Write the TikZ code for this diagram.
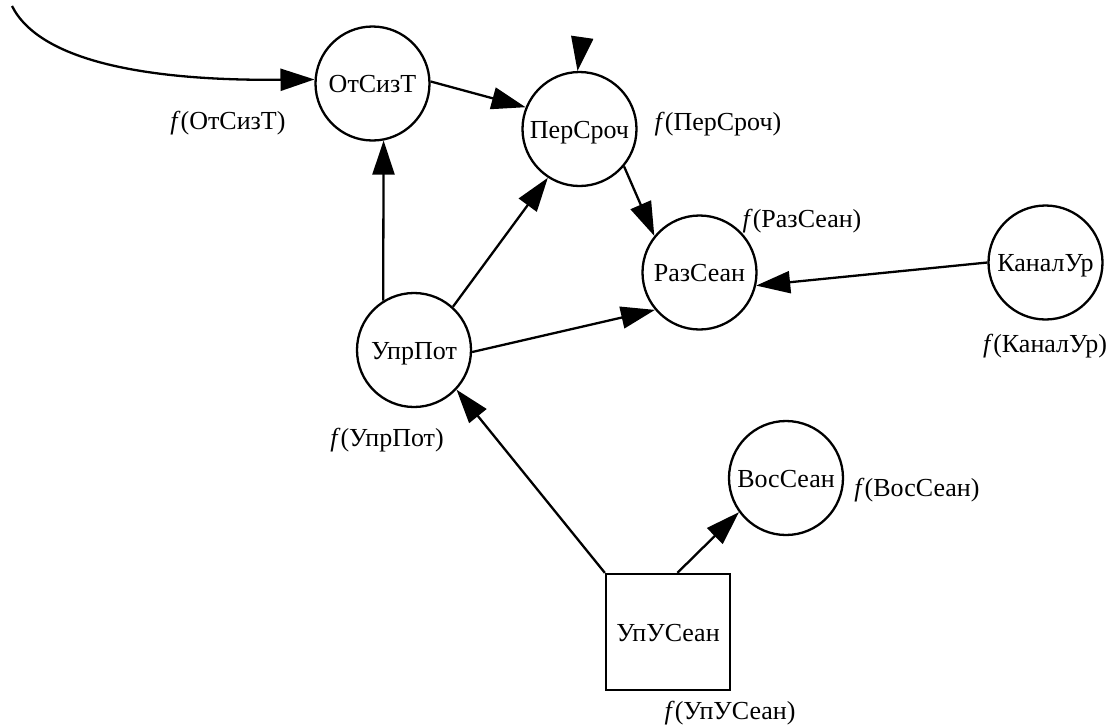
\documentclass[tikz,border=0pt]{standalone}
\usepackage{fontspec}
\setmainfont{Liberation Serif}
\usetikzlibrary{arrows.meta}
\begin{document}
\begin{tikzpicture}[x=1pt,y=-1pt,
  every node/.style={font=\fontsize{26}{30}\selectfont, text height=18pt, text depth=0pt, inner sep=0pt},
  state/.style={circle, draw, line width=2.3pt, minimum size=114pt},
  boxnode/.style={rectangle, draw, line width=2.3pt, minimum width=124pt, minimum height=116pt},
  lbl/.style={},
  edge/.style={draw, line width=2.3pt, -{Triangle[length=34pt,width=22pt]}}
]
\useasboundingbox (0,0) rectangle (1111,724);
\fill[white] (0,0) rectangle (1111,724);

\node[state] (ot) at (372.5,83.5) {ОтСизТ};
\node[state] (per) at (579.5,129) {ПерСроч};
\node[state] (raz) at (699.5,272.5) {РазСеан};
\node[state] (kan) at (1045.5,262.5) {КаналУр};
\node[state] (upr) at (414,350) {УпрПот};
\node[state] (vos) at (786,478) {ВосСеан};
\node[boxnode] (upu) at (668,632) {УпУСеан};

\node[lbl] (lot) at (228,120) {\textit{f}(ОтСизТ)};
\node[lbl] (lper) at (718,121) {\textit{f}(ПерСроч)};
\node[lbl] (lraz) at (802,218) {\textit{f}(РазСеан)};
\node[lbl] (lkan) at (1045,343) {\textit{f}(КаналУр)};
\node[lbl] (lupr) at (387,437) {\textit{f}(УпрПот)};
\node[lbl] (lvos) at (917,487) {\textit{f}(ВосСеан)};
\node[lbl] (lupu) at (730,710) {\textit{f}(УпУСеан)};

\coordinate (start) at (12,6);
\coordinate (top) at (582,39);

\draw[edge] (start) .. controls (40,62) and (150,81) .. (ot.176);
\draw[edge] (top) -- (per.92);
\draw[edge] (ot.2) -- (per.158);
\draw[edge] (upr.122) -- (ot.281);
\draw[edge] (upr.48) -- (per.237);
\draw[edge] (upr.-2) -- (raz.220);
\draw[edge] (per.-40) -- (raz.141);
\draw[edge] (kan.west) -- (raz.-13);
\draw[edge] (upu.north west) -- (upr.-43);
\draw[edge] (upu.81) -- (vos.216);
\end{tikzpicture}
\end{document}
